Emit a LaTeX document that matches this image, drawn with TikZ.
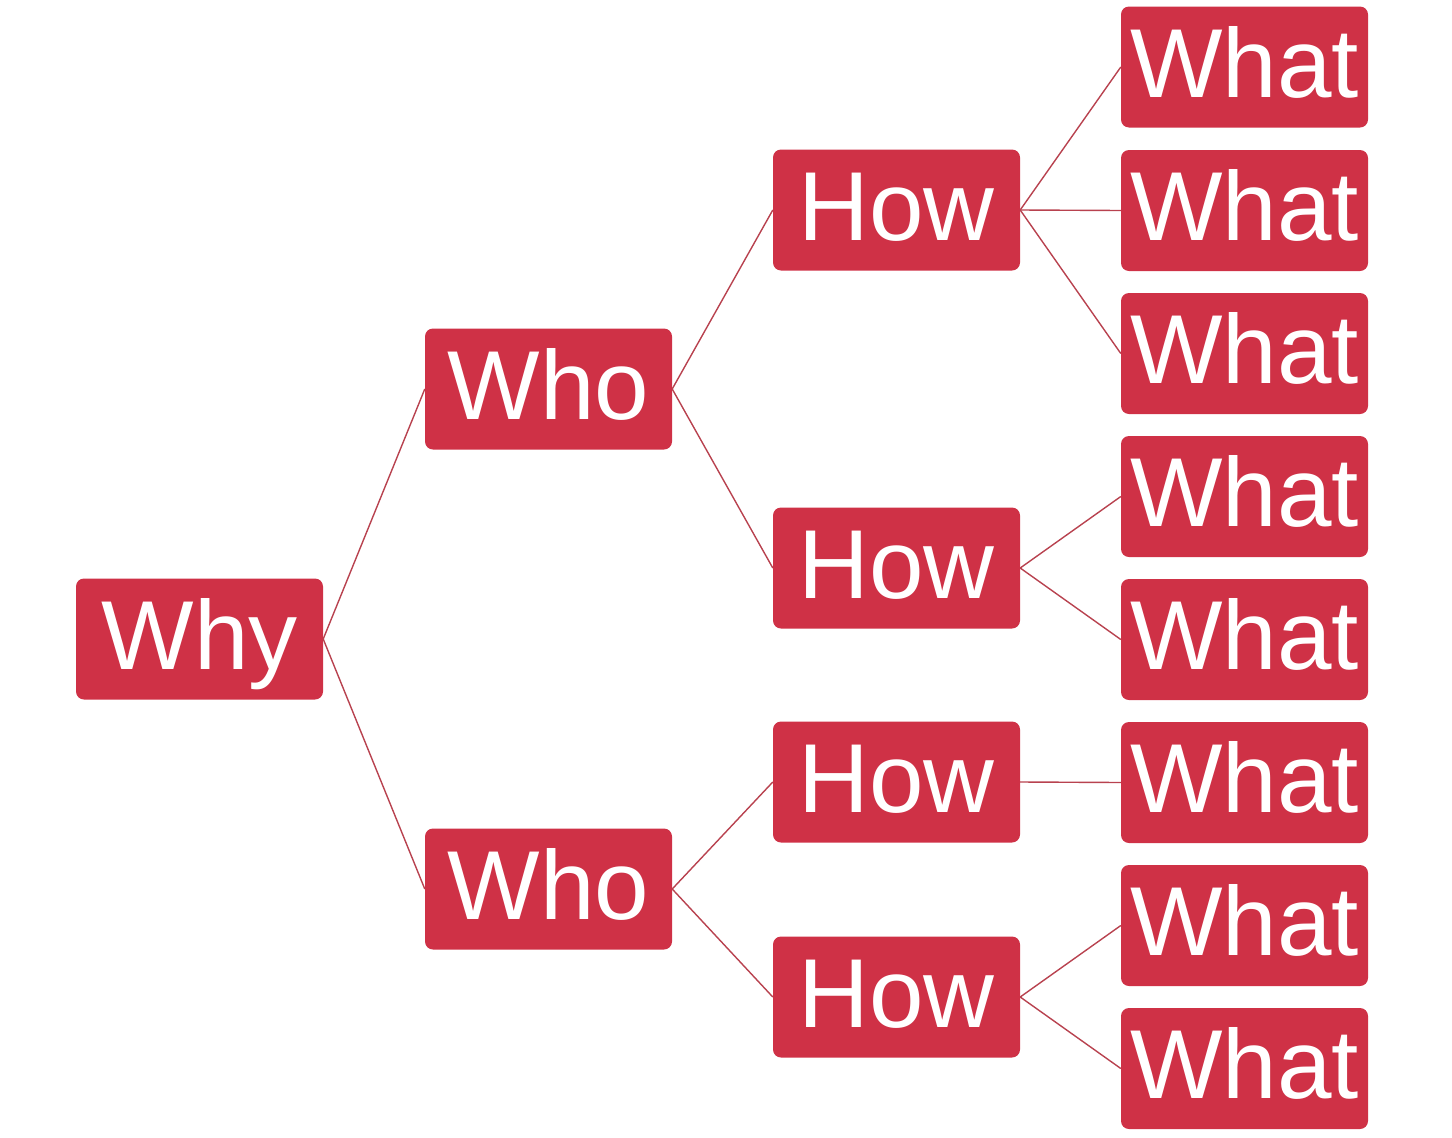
\documentclass[tikz,border=0pt]{standalone}
\usepackage{fontspec}
\setmainfont{Liberation Sans}
\definecolor{boxred}{HTML}{CF3146}
\definecolor{linered}{HTML}{B8424F}
\begin{document}
\begin{tikzpicture}[x=1pt,y=-1pt,
  wbox/.style={fill=boxred, rounded corners=8pt, minimum width=247pt, minimum height=121pt,
    inner sep=0pt, text=white, font=\fontsize{98pt}{100pt}\selectfont, text height=72pt, text depth=12pt},
  conn/.style={draw=linered, line width=1.4pt}]
\useasboundingbox (0,0) rectangle (1452,1138);
\node[wbox] (why) at (199.5,639) {Why};
\node[wbox] (who1) at (548.5,389) {Who};
\node[wbox] (who2) at (548.5,889) {Who};
\node[wbox] (how1) at (896.5,210) {How};
\node[wbox] (how2) at (896.5,568) {How};
\node[wbox] (how3) at (896.5,782) {How};
\node[wbox] (how4) at (896.5,997) {How};
\node[wbox] (w1) at (1244.5,67) {What};
\node[wbox] (w2) at (1244.5,210.5) {What};
\node[wbox] (w3) at (1244.5,353.5) {What};
\node[wbox] (w4) at (1244.5,496.5) {What};
\node[wbox] (w5) at (1244.5,639.5) {What};
\node[wbox] (w6) at (1244.5,782.5) {What};
\node[wbox] (w7) at (1244.5,925.5) {What};
\node[wbox] (w8) at (1244.5,1068.5) {What};
\draw[conn] (why.east) -- (who1.west);
\draw[conn] (why.east) -- (who2.west);
\draw[conn] (who1.east) -- (how1.west);
\draw[conn] (who1.east) -- (how2.west);
\draw[conn] (who2.east) -- (how3.west);
\draw[conn] (who2.east) -- (how4.west);
\draw[conn] (how1.east) -- (w1.west);
\draw[conn] (how1.east) -- (w2.west);
\draw[conn] (how1.east) -- (w3.west);
\draw[conn] (how2.east) -- (w4.west);
\draw[conn] (how2.east) -- (w5.west);
\draw[conn] (how3.east) -- (w6.west);
\draw[conn] (how4.east) -- (w7.west);
\draw[conn] (how4.east) -- (w8.west);
\end{tikzpicture}
\end{document}
